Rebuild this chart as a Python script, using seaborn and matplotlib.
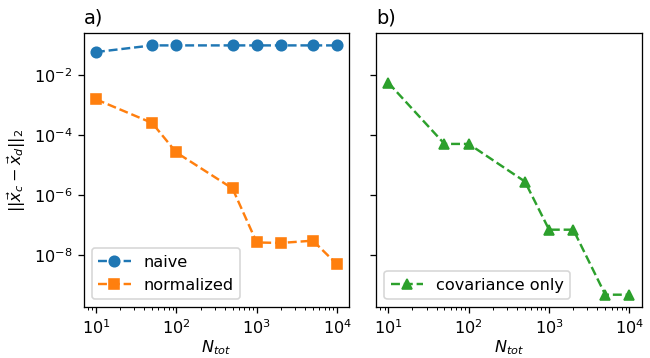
import numpy as np
import matplotlib
matplotlib.use("Agg")
import matplotlib.pyplot as plt
from matplotlib.ticker import LogLocator, NullLocator
import seaborn as sns

# ---------------------------------------------------------------------------
# Data
# ---------------------------------------------------------------------------
n_tot = [10, 50, 100, 500, 1000, 2000, 5000, 10000]

err_naive = [6.0e-2, 1.0e-1, 1.0e-1, 1.0e-1, 1.0e-1, 1.0e-1, 1.0e-1, 1.0e-1]
err_normalized = [1.6e-3, 2.6e-4, 2.7e-5, 1.7e-6, 2.7e-8, 2.6e-8, 3.1e-8, 5.0e-9]
err_covariance = [5.7e-3, 5.2e-5, 5.2e-5, 2.9e-6, 7.2e-8, 7.2e-8, 4.9e-10, 4.9e-10]

colors = sns.color_palette("tab10")

DPI = 116
fig, (ax_a, ax_b) = plt.subplots(1, 2, figsize=(650 / DPI, 358 / DPI), dpi=DPI, sharey=True)
fig.subplots_adjust(left=0.129, right=0.987, top=0.908, bottom=0.142, wspace=0.102)

line_kw = dict(linestyle="--", markersize=6.5, markeredgewidth=1)

# panel a)
sns.lineplot(x=n_tot, y=err_naive, ax=ax_a, label="naive", color=colors[0],
             marker="o", markeredgecolor=colors[0], **line_kw)
sns.lineplot(x=n_tot, y=err_normalized, ax=ax_a, label="normalized", color=colors[1],
             marker="s", markeredgecolor=colors[1], **line_kw)

# panel b)
sns.lineplot(x=n_tot, y=err_covariance, ax=ax_b, label="covariance only", color=colors[2],
             marker="^", markeredgecolor=colors[2], **line_kw)

for ax, tag in [(ax_a, "a)"), (ax_b, "b)")]:
    ax.set_xscale("log")
    ax.set_yscale("log")
    ax.set_xlabel(r"$N_{tot}$", labelpad=1)
    ax.set_title(tag, loc="left")
    ax.legend(loc="lower left")

ax_a.yaxis.set_major_locator(LogLocator(base=100))
ax_a.yaxis.set_minor_locator(NullLocator())
ax_a.set_ylabel(r"$||\vec{x}_c - \vec{x}_d||_2$")

fig.savefig("out.png", dpi=DPI)
